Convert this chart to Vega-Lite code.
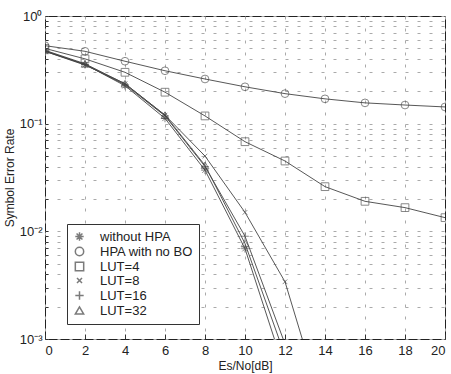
{
  "$schema": "https://vega.github.io/schema/vega-lite/v6.json",
  "autosize": "none",
  "width": 400,
  "height": 323,
  "padding": {"left": 45, "top": 16, "right": 6, "bottom": 35},
  "background": "white",
  "config": {
    "font": "Liberation Sans",
    "view": {"stroke": "#222", "strokeWidth": 1},
    "axis": {"domain": false, "labelFont": "Liberation Sans", "titleFont": "Liberation Sans", "labelColor": "#222", "titleColor": "#222", "titleFontWeight": "normal", "labelFontSize": 13, "titleFontSize": 12, "tickColor": "#333", "gridColor": "#aaa", "gridDash": [3, 9], "gridWidth": 1}
  },
  "data": {"values": [
    {"s": "without HPA", "x": 0, "y": 0.47}, {"s": "without HPA", "x": 2, "y": 0.355}, {"s": "without HPA", "x": 4, "y": 0.225}, {"s": "without HPA", "x": 6, "y": 0.112}, {"s": "without HPA", "x": 8, "y": 0.037}, {"s": "without HPA", "x": 10, "y": 0.0069}, {"s": "without HPA", "x": 12, "y": 0.0005},
    {"s": "HPA with no BO", "x": 0, "y": 0.53}, {"s": "HPA with no BO", "x": 2, "y": 0.47}, {"s": "HPA with no BO", "x": 4, "y": 0.38}, {"s": "HPA with no BO", "x": 6, "y": 0.31}, {"s": "HPA with no BO", "x": 8, "y": 0.26}, {"s": "HPA with no BO", "x": 10, "y": 0.22}, {"s": "HPA with no BO", "x": 12, "y": 0.19}, {"s": "HPA with no BO", "x": 14, "y": 0.17}, {"s": "HPA with no BO", "x": 16, "y": 0.156}, {"s": "HPA with no BO", "x": 18, "y": 0.149}, {"s": "HPA with no BO", "x": 20, "y": 0.143},
    {"s": "LUT=4", "x": 0, "y": 0.5}, {"s": "LUT=4", "x": 2, "y": 0.4}, {"s": "LUT=4", "x": 4, "y": 0.3}, {"s": "LUT=4", "x": 6, "y": 0.196}, {"s": "LUT=4", "x": 8, "y": 0.118}, {"s": "LUT=4", "x": 10, "y": 0.068}, {"s": "LUT=4", "x": 12, "y": 0.045}, {"s": "LUT=4", "x": 14, "y": 0.026}, {"s": "LUT=4", "x": 16, "y": 0.019}, {"s": "LUT=4", "x": 18, "y": 0.0166}, {"s": "LUT=4", "x": 20, "y": 0.0134},
    {"s": "LUT=8", "x": 0, "y": 0.47}, {"s": "LUT=8", "x": 2, "y": 0.35}, {"s": "LUT=8", "x": 4, "y": 0.235}, {"s": "LUT=8", "x": 6, "y": 0.12}, {"s": "LUT=8", "x": 8, "y": 0.05}, {"s": "LUT=8", "x": 10, "y": 0.015}, {"s": "LUT=8", "x": 12, "y": 0.0034}, {"s": "LUT=8", "x": 14, "y": 0.0002},
    {"s": "LUT=16", "x": 0, "y": 0.475}, {"s": "LUT=16", "x": 2, "y": 0.355}, {"s": "LUT=16", "x": 4, "y": 0.23}, {"s": "LUT=16", "x": 6, "y": 0.118}, {"s": "LUT=16", "x": 8, "y": 0.04}, {"s": "LUT=16", "x": 10, "y": 0.009}, {"s": "LUT=16", "x": 12, "y": 0.0009},
    {"s": "LUT=32", "x": 0, "y": 0.48}, {"s": "LUT=32", "x": 2, "y": 0.36}, {"s": "LUT=32", "x": 4, "y": 0.235}, {"s": "LUT=32", "x": 6, "y": 0.12}, {"s": "LUT=32", "x": 8, "y": 0.041}, {"s": "LUT=32", "x": 10, "y": 0.0077}, {"s": "LUT=32", "x": 12, "y": 0.0007}
  ]},
  "encoding": {
    "x": {"field": "x", "type": "quantitative", "scale": {"domain": [0, 20], "nice": false, "zero": false},
      "axis": {"title": "Es/No[dB]", "values": [0, 2, 4, 6, 8, 10, 12, 14, 16, 18, 20], "tickSize": -5, "labelPadding": 10, "titlePadding": 3, "grid": true}},
    "y": {"field": "y", "type": "quantitative", "scale": {"type": "log", "domain": [0.001, 1], "nice": false},
      "axis": {"title": "Symbol Error Rate", "values": [0.001, 0.002, 0.003, 0.004, 0.005, 0.006, 0.007, 0.008, 0.009, 0.01, 0.02, 0.03, 0.04, 0.05, 0.06, 0.07, 0.08, 0.09, 0.1, 0.2, 0.3, 0.4, 0.5, 0.6, 0.7, 0.8, 0.9, 1],
        "labelExpr": "datum.value == 1 ? '10⁰' : datum.value == 0.1 ? '10⁻¹' : datum.value == 0.01 ? '10⁻²' : datum.value == 0.001 ? '10⁻³' : ''",
        "tickSize": -3, "labelPadding": 6, "titlePadding": 3, "grid": true}}
  },
  "layer": [
    {"mark": {"type": "line", "clip": true, "strokeWidth": 0.9, "color": "#444"},
      "encoding": {"detail": {"field": "s"}}},
    {"mark": {"type": "point", "clip": true, "filled": false, "color": "#444", "strokeWidth": 0.9, "size": 60},
      "encoding": {"shape": {"field": "s", "type": "nominal",
        "scale": {"domain": ["without HPA", "HPA with no BO", "LUT=4", "LUT=8", "LUT=16", "LUT=32"],
          "range": ["M-1,0L1,0M0,-1L0,1M-0.7,-0.7L0.7,0.7M-0.7,0.7L0.7,-0.7", "circle", "square", "M-0.6,-0.6L0.6,0.6M-0.6,0.6L0.6,-0.6", "M-1,0L1,0M0,-1L0,1", "triangle-up"]},
        "legend": {"title": null, "orient": "none", "legendX": 22, "legendY": 208, "labelFontSize": 13, "labelFont": "Liberation Sans", "labelColor": "#222", "symbolStrokeColor": "#444", "symbolSize": 70, "symbolFillColor": "transparent", "rowPadding": 0, "strokeColor": "#333", "fillColor": "white", "padding": 6, "labelOffset": 14}}}}
  ]
}
